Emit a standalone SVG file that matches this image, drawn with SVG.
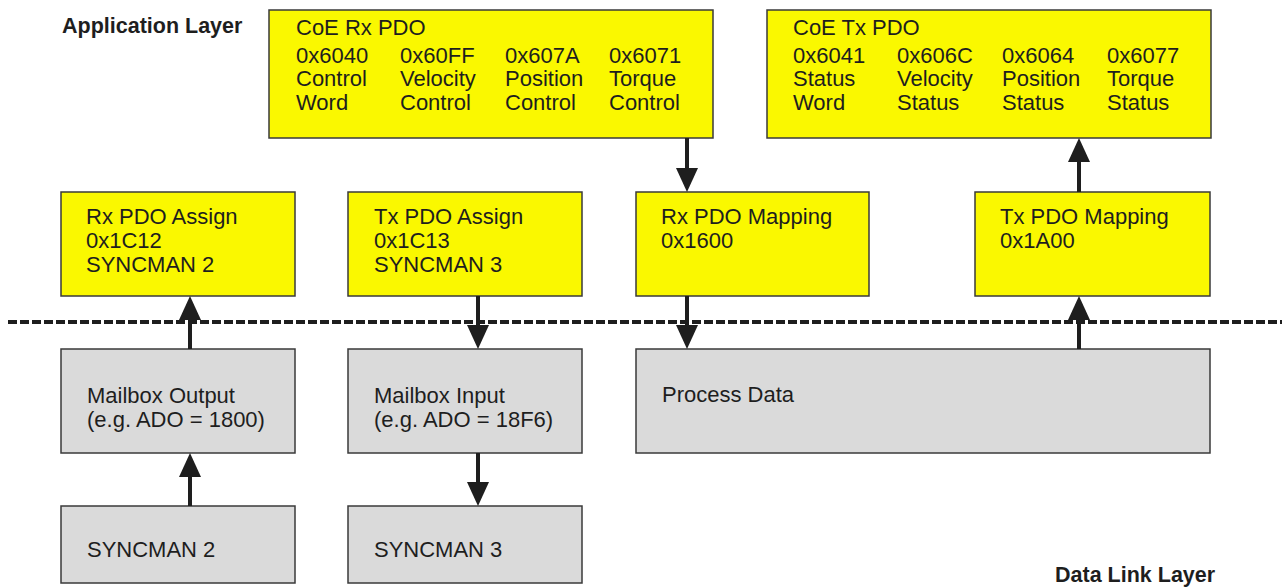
<svg xmlns="http://www.w3.org/2000/svg" width="1282" height="587" viewBox="0 0 1282 587">
<style>
.y{fill:#FAF800;stroke:#3a3a3a;stroke-width:1.5}
.g{fill:#DADADA;stroke:#3a3a3a;stroke-width:1.5}
text{font-family:"Liberation Sans",Arial,sans-serif;font-size:22px;fill:#1e1e1e}
.b{font-weight:bold;font-size:21.5px}
.c{stroke:#1e1e1e;stroke-width:4;fill:none;marker-end:url(#ah)}
</style>
<defs>
<marker id="ah" viewBox="0 0 24 22" refX="12" refY="11" markerWidth="24" markerHeight="22" markerUnits="userSpaceOnUse" orient="auto">
<path d="M0,0 L24,11 L0,22 Z" fill="#1e1e1e"/>
</marker>
</defs>
<rect width="1282" height="587" fill="#fff"/>
<text class="b" x="62" y="33">Application Layer</text>
<text class="b" x="1055" y="582">Data Link Layer</text>
<line x1="8" y1="322" x2="1282" y2="322" stroke="#1e1e1e" stroke-width="4" stroke-dasharray="9,3"/>
<g id="coe-rx">
<rect class="y" x="269" y="10" width="444" height="128"/>
<text x="296" y="35">CoE Rx PDO</text>
<text x="296" y="63">0x6040</text><text x="296" y="86">Control</text><text x="296" y="110">Word</text>
<text x="400" y="63">0x60FF</text><text x="400" y="86">Velocity</text><text x="400" y="110">Control</text>
<text x="505" y="63">0x607A</text><text x="505" y="86">Position</text><text x="505" y="110">Control</text>
<text x="609" y="63">0x6071</text><text x="609" y="86">Torque</text><text x="609" y="110">Control</text>
</g>
<g id="coe-tx">
<rect class="y" x="767" y="10" width="444" height="128"/>
<text x="793" y="35">CoE Tx PDO</text>
<text x="793" y="63">0x6041</text><text x="793" y="86">Status</text><text x="793" y="110">Word</text>
<text x="897" y="63">0x606C</text><text x="897" y="86">Velocity</text><text x="897" y="110">Status</text>
<text x="1002" y="63">0x6064</text><text x="1002" y="86">Position</text><text x="1002" y="110">Status</text>
<text x="1107" y="63">0x6077</text><text x="1107" y="86">Torque</text><text x="1107" y="110">Status</text>
</g>
<g id="rx-assign">
<rect class="y" x="61" y="192" width="234" height="104"/>
<text x="86" y="224">Rx PDO Assign</text><text x="86" y="248">0x1C12</text><text x="86" y="272">SYNCMAN 2</text>
</g>
<g id="tx-assign">
<rect class="y" x="348" y="192" width="234" height="104"/>
<text x="374" y="224">Tx PDO Assign</text><text x="374" y="248">0x1C13</text><text x="374" y="272">SYNCMAN 3</text>
</g>
<g id="rx-mapping">
<rect class="y" x="636" y="192" width="233" height="104"/>
<text x="661" y="224">Rx PDO Mapping</text><text x="661" y="248">0x1600</text>
</g>
<g id="tx-mapping">
<rect class="y" x="975" y="192" width="235" height="104"/>
<text x="1000" y="224">Tx PDO Mapping</text><text x="1000" y="248">0x1A00</text>
</g>
<g id="mailbox-out">
<rect class="g" x="61" y="349" width="234" height="104"/>
<text x="87" y="403">Mailbox Output</text><text x="87" y="427">(e.g. ADO = 1800)</text>
</g>
<g id="mailbox-in">
<rect class="g" x="348" y="349" width="234" height="104"/>
<text x="374" y="403">Mailbox Input</text><text x="374" y="427">(e.g. ADO = 18F6)</text>
</g>
<g id="process-data">
<rect class="g" x="636" y="349" width="574" height="104"/>
<text x="662" y="402">Process Data</text>
</g>
<g id="syncman2">
<rect class="g" x="61" y="506" width="234" height="77"/>
<text x="87" y="557">SYNCMAN 2</text>
</g>
<g id="syncman3">
<rect class="g" x="348" y="506" width="234" height="77"/>
<text x="374" y="557">SYNCMAN 3</text>
</g>
<g id="connectors">
<line class="c" x1="687" y1="138" x2="687" y2="180"/>
<line class="c" x1="687" y1="296" x2="687" y2="337"/>
<line class="c" x1="1079" y1="349" x2="1079" y2="308"/>
<line class="c" x1="1079" y1="192" x2="1079" y2="150"/>
<line class="c" x1="190" y1="349" x2="190" y2="308"/>
<line class="c" x1="478" y1="296" x2="478" y2="337"/>
<line class="c" x1="190" y1="506" x2="190" y2="465"/>
<line class="c" x1="478" y1="453" x2="478" y2="494"/>
</g>
</svg>
